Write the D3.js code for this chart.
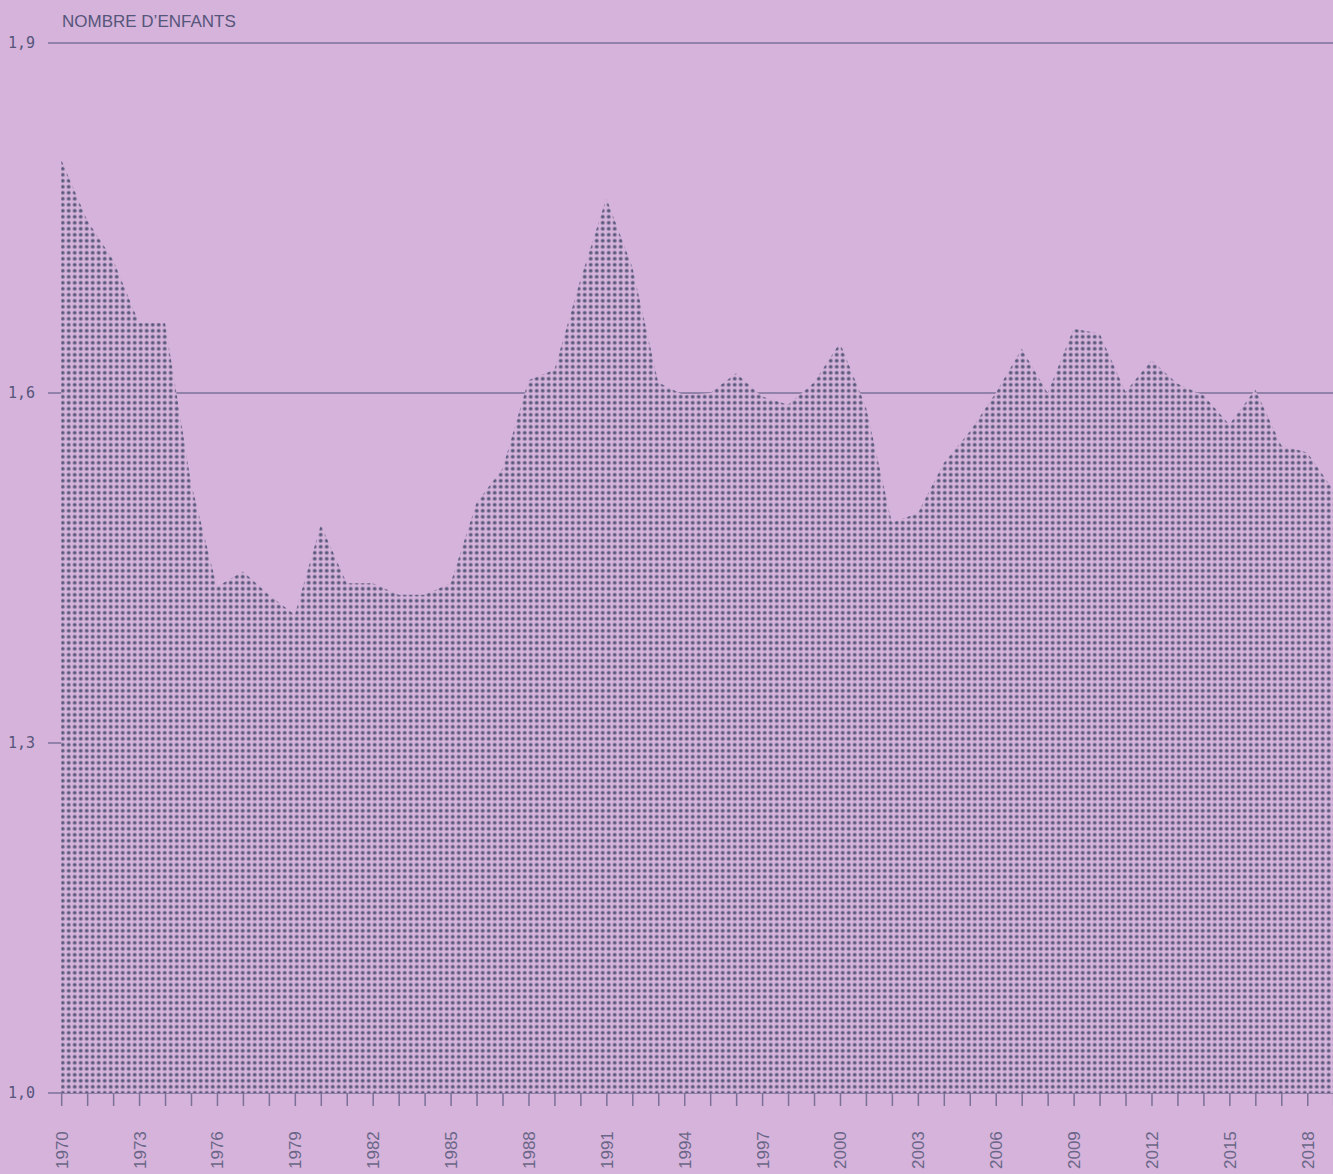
<!DOCTYPE html>
<html>
<head>
<meta charset="utf-8">
<script src="https://cdn.jsdelivr.net/npm/d3@7"></script>
<style>
  html, body { margin: 0; padding: 0; background: #d5b3da; }
  svg { display: block; }
</style>
</head>
<body>
<svg id="chart" width="1333" height="1174"></svg>
<script>
const years = [1970,1971,1972,1973,1974,1975,1976,1977,1978,1979,
               1980,1981,1982,1983,1984,1985,1986,1987,1988,1989,
               1990,1991,1992,1993,1994,1995,1996,1997,1998,1999,
               2000,2001,2002,2003,2004,2005,2006,2007,2008,2009,
               2010,2011,2012,2013,2014,2015,2016,2017,2018,2019];
const fertility = [1.800,1.748,1.714,1.660,1.660,1.523,1.434,1.447,1.427,1.410,
                   1.487,1.437,1.437,1.427,1.427,1.437,1.506,1.535,1.611,1.620,
                   1.697,1.767,1.708,1.609,1.598,1.600,1.617,1.597,1.590,1.609,
                   1.643,1.588,1.489,1.497,1.540,1.567,1.600,1.638,1.600,1.655,
                   1.651,1.601,1.628,1.608,1.598,1.573,1.603,1.555,1.549,1.517];
const yTicks = [1.0, 1.3, 1.6, 1.9];
const xLabelYears = years.filter(y => (y - 1970) % 3 === 0);
const yTitle = "NOMBRE D\u2019ENFANTS";

const W = 1333, H = 1174;
const bg = "#d5b3da";
const ink = "#56557a";
const gridCol = "#7b7098";

const svg = d3.select("#chart");
svg.append("rect").attr("width", W).attr("height", H).attr("fill", bg);

const x = d3.scaleLinear().domain([1970, 2019]).range([61.2, 1333.2]);
const y = d3.scaleLinear().domain([1.0, 1.9]).range([1093, 43]);

// dot pattern
const defs = svg.append("defs");
const pat = defs.append("pattern")
  .attr("id", "dots")
  .attr("patternUnits", "userSpaceOnUse")
  .attr("x", 59.7).attr("y", 159.7)
  .attr("width", 6).attr("height", 6);
pat.append("circle").attr("cx", 3).attr("cy", 3).attr("r", 1.85).attr("fill", ink);

// gridlines
svg.append("g").selectAll("line").data(yTicks).join("line")
  .attr("x1", 48).attr("x2", W)
  .attr("y1", d => y(d)).attr("y2", d => y(d))
  .attr("stroke", gridCol).attr("stroke-width", 1.5);

// y labels
svg.append("g").selectAll("text").data(yTicks).join("text")
  .attr("x", 35).attr("y", d => y(d))
  .attr("dy", "0.35em")
  .attr("text-anchor", "end")
  .attr("font-family", "'DejaVu Sans Mono', monospace")
  .attr("font-size", 15)
  .attr("fill", ink)
  .text(d => d3.format(".1f")(d).replace(".", ","));

// title
svg.append("text")
  .attr("x", 62).attr("y", 27)
  .attr("font-family", "'Liberation Sans', Arial, sans-serif")
  .attr("font-size", 17)
  .attr("fill", ink)
  .text(yTitle);

// area
const data = years.map((yr, i) => ({ yr, v: fertility[i] }));
const area = d3.area()
  .x(d => x(d.yr))
  .y0(y(1.0))
  .y1(d => y(d.v))
  .curve(d3.curveLinear);
svg.append("path").datum(data).attr("d", area).attr("fill", bg);
svg.append("path").datum(data).attr("d", area).attr("fill", "url(#dots)");

// x axis
const xAxis = d3.axisBottom(x)
  .tickValues(years)
  .tickSize(13)
  .tickFormat(d => xLabelYears.includes(d) ? String(d) : "");
const gx = svg.append("g").attr("transform", `translate(0,${y(1.0)})`).call(xAxis);
gx.select(".domain").remove();
gx.selectAll(".tick line").attr("stroke", gridCol).attr("stroke-width", 1.5);
gx.selectAll(".tick text")
  .attr("transform", "rotate(-90)")
  .attr("x", -76).attr("y", 0).attr("dy", "0.35em")
  .attr("text-anchor", "start")
  .attr("font-family", "'Liberation Sans', Arial, sans-serif")
  .attr("font-size", 17)
  .attr("fill", "#6a6688");
</script>
</body>
</html>
